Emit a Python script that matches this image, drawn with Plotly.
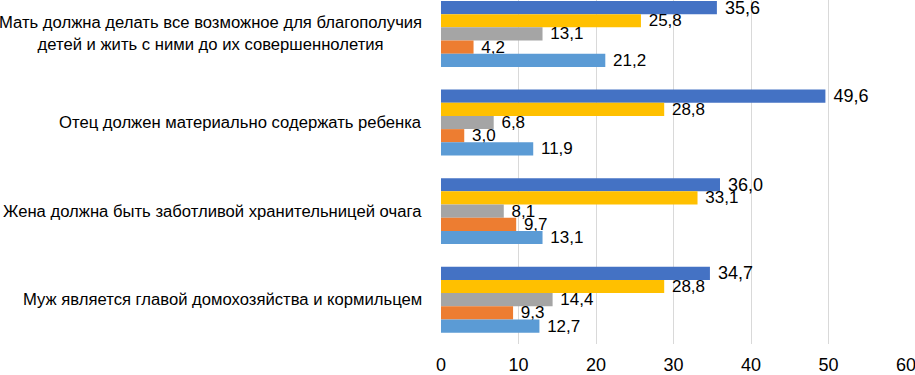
import plotly.graph_objects as go

categories = [
    "Мать должна делать все возможное для благополучия<br>детей и жить с ними до их совершеннолетия",
    "Отец должен материально содержать ребенка",
    "Жена должна быть заботливой хранительницей очага",
    "Муж является главой домохозяйства и кормильцем",
]
series_names = ["Ряд 1", "Ряд 2", "Ряд 3", "Ряд 4", "Ряд 5"]
series_values = [
    [35.6, 49.6, 36.0, 34.7],
    [25.8, 28.8, 33.1, 28.8],
    [13.1, 6.8, 8.1, 14.4],
    [4.2, 3.0, 9.7, 9.3],
    [21.2, 11.9, 13.1, 12.7],
]
colors = ["#4472C4", "#FFC000", "#A5A5A5", "#ED7D31", "#5B9BD5"]
label_sizes = [18, 17, 17, 17, 17]
x_ticks = [0, 10, 20, 30, 40, 50, 60]

ycats = list(range(len(categories)))

fig = go.Figure()
for name, vals, col, fs in zip(series_names, series_values, colors, label_sizes):
    fig.add_trace(go.Bar(
        y=ycats, x=vals, orientation="h", name=name,
        marker=dict(color=col, line=dict(width=0)),
        text=vals, texttemplate="\u00a0%{x:.1f}", textposition="outside",
        textfont=dict(family="Liberation Sans, Arial", size=fs, color="#000000"),
        constraintext="none", cliponaxis=False, showlegend=False,
    ))

for i, c in enumerate(categories):
    fig.add_annotation(
        x=0, xref="paper", y=i, yref="y", text=c, showarrow=False,
        xanchor="right", yanchor="middle", align="center", xshift=-17,
        font=dict(family="Liberation Sans, Arial", size=16.65, color="#000000"),
    )

fig.update_layout(
    width=915, height=375,
    margin=dict(l=441, r=9, t=0, b=31, autoexpand=False),
    paper_bgcolor="white", plot_bgcolor="white",
    barmode="group", bargap=0.256, bargroupgap=0,
    separators=", ",
    font=dict(family="Liberation Sans, Arial", color="#000000"),
)
fig.update_xaxes(
    range=[0, 60], tickvals=x_ticks, showgrid=True, gridcolor="#D9D9D9", gridwidth=1,
    zeroline=False, showline=False, ticks="", automargin=False, ticklabelstandoff=8,
    ticklabeloverflow="allow",
    tickfont=dict(family="Liberation Sans, Arial", size=18, color="#000000"),
)
fig.update_yaxes(
    range=[3.5, -0.383], showticklabels=False, showgrid=False, zeroline=False,
    showline=False, ticks="", automargin=False,
)

fig.write_html("out.html", config={"displayModeBar": False},
               post_script="document.body.style.margin='0';")
